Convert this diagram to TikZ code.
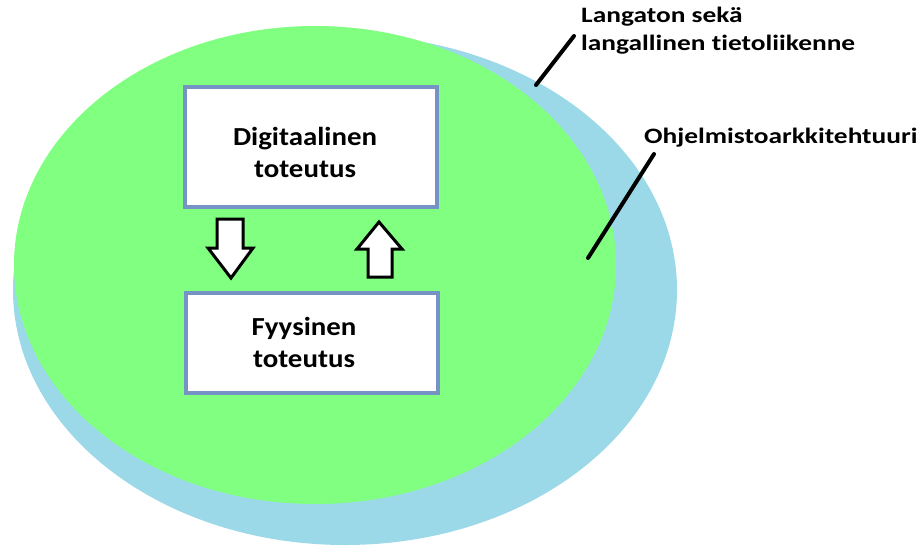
\documentclass[tikz,border=0pt]{standalone}
\usepackage{fontspec}
\setmainfont[Ligatures=NoCommon]{Carlito}
\newfontfamily\boxfont[Ligatures=NoCommon,FakeStretch=1.11]{Carlito}
\newfontfamily\tagfont[Ligatures=NoCommon,FakeStretch=1.245]{Carlito}
\begin{document}
\begin{tikzpicture}[x=1pt,y=-1pt,
  boxframe/.style={draw=boxblue, line width=4pt, fill=white, minimum width=252pt, minimum height=#1, inner sep=0pt},
  boxtext/.style={font=\boxfont\fontsize{26}{32}\selectfont\bfseries, align=center, inner sep=0pt},
  tag/.style={font=\tagfont\fontsize{22}{28}\selectfont\bfseries, align=left, anchor=north west, inner sep=0pt},
  leader/.style={line width=4pt, line cap=round, black},
  blockarrow/.style={draw=black, line width=3pt, fill=white, line join=miter}]
\definecolor{outerblue}{RGB}{156,217,232}
\definecolor{innergreen}{RGB}{128,255,128}
\definecolor{boxblue}{RGB}{117,147,196}
\useasboundingbox (0,0) rectangle (921,547);

% outer and inner ellipses
\fill[outerblue] (345,290) ellipse [x radius=332, y radius=255];
\fill[innergreen] (315,265) ellipse [x radius=301, y radius=239];

% the two boxes
\node[boxframe=120pt] (dig) at (311,147) {};
\node[boxtext] (digtext) at (305,152) {Digitaalinen\\toteutus};
\node[boxframe=100pt] (fys) at (312,343) {};
\node[boxtext] (fystext) at (304,342) {Fyysinen\\toteutus};

% block arrows between the boxes
\draw[blockarrow] (217,219) -- (243,219) -- (243,248) -- (253,248) -- (231,278)
  -- (208,248) -- (217,248) -- cycle;
\draw[blockarrow] (368,277) -- (392,277) -- (392,249) -- (402,249) -- (379,222)
  -- (357,249) -- (368,249) -- cycle;

% labels with leader lines
\node[tag] (net) at (581,7) {Langaton sekä\\langallinen tietoliikenne};
\node[tag] (sw) at (644,128) {Ohjelmistoarkkitehtuuri};
\coordinate (netend) at (536,85);
\coordinate (swend) at (588,258);
\draw[leader] (netend) -- (574,36);
\draw[leader] (swend) -- (654,154);
\end{tikzpicture}
\end{document}
